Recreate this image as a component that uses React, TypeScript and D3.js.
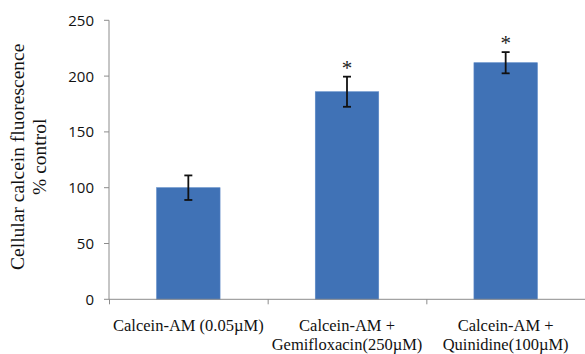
import React from "react";
import * as d3 from "d3";

const categories = ["c1", "c2", "c3"];
const labelLines = [
  ["Calcein-AM (0.05µM)"],
  ["Calcein-AM +", "Gemifloxacin(250µM)"],
  ["Calcein-AM +", "Quinidine(100µM)"],
];
const values = [100, 186, 212];
const errors = [11, 13.5, 9.5];
const significant = [false, true, true];
const yTicks = [0, 50, 100, 150, 200, 250];

const W = 585;
const H = 354;
const left = 109;
const right = 585;
const top = 20.3;
const bottom = 299.3;

export default function App() {
  const x = d3.scaleBand<string>().domain(categories).range([left, right]).paddingInner(0.6).paddingOuter(0.3);
  const y = d3.scaleLinear().domain([0, 250]).range([bottom, top]);
  const step = x.step();
  const bw = x.bandwidth();
  const axisColor = "#8c8c8c";
  const boundaries = categories.map((c) => (x(c) as number) - step * 0.3);

  return (
    <svg width={W} height={H} style={{ position: "absolute", left: 0, top: 0, background: "#fff" }}>
      {categories.map((c, i) => (
        <rect key={c} x={x(c)} y={y(values[i])} width={bw} height={bottom - y(values[i])} fill="#4072b6" stroke="#5a88c6" strokeWidth={0.6} />
      ))}
      <line x1={left} x2={left} y1={top} y2={bottom} stroke={axisColor} strokeWidth={1} />
      {yTicks.map((t) => (
        <g key={t}>
          <line x1={left - 5} x2={left} y1={y(t)} y2={y(t)} stroke={axisColor} strokeWidth={1} />
          <text x={94} y={y(t)} dy="0.36em" textAnchor="end" fontFamily="'Open Sans', sans-serif" fontSize={15} fill="#111">
            {t}
          </text>
        </g>
      ))}
      <line x1={left} x2={right} y1={bottom} y2={bottom} stroke={axisColor} strokeWidth={1} />
      {boundaries.map((b, i) => (
        <line key={i} x1={b + 0.5} x2={b + 0.5} y1={bottom} y2={bottom + 5} stroke={axisColor} strokeWidth={1} />
      ))}
      {categories.map((c, i) => {
        const cx = (x(c) as number) + bw / 2;
        const y1 = y(values[i] + errors[i]);
        const y2 = y(values[i] - errors[i]);
        return (
          <g key={c} stroke="#111" strokeWidth={1.8}>
            <line x1={cx} x2={cx} y1={y1} y2={y2} />
            <line x1={cx - 4} x2={cx + 4} y1={y1} y2={y1} />
            <line x1={cx - 4} x2={cx + 4} y1={y2} y2={y2} />
          </g>
        );
      })}
      {categories.map((c, i) =>
        significant[i] ? (
          <text key={c} x={(x(c) as number) + bw / 2} y={y(values[i] + errors[i]) - 2} textAnchor="middle" fontFamily="'Liberation Serif', serif" fontSize={21} fill="#222">
            *
          </text>
        ) : null
      )}
      {categories.map((c, i) => (
        <text key={c} x={(x(c) as number) + bw / 2} textAnchor="middle" fontFamily="'Liberation Serif', serif" fontSize={16.5} fill="#111">
          {labelLines[i].map((l, j) => (
            <tspan key={j} x={(x(c) as number) + bw / 2} y={331 + j * 19}>
              {l}
            </tspan>
          ))}
        </text>
      ))}
      <text transform={`translate(0, ${(top + bottom) / 2 - 3}) rotate(-90)`} textAnchor="middle" fontFamily="'Liberation Serif', serif" fontSize={19.5} fill="#111">
        <tspan x={0} y={24}>Cellular calcein fluorescence</tspan>
        <tspan x={0} y={46}>% control</tspan>
      </text>
    </svg>
  );
}
